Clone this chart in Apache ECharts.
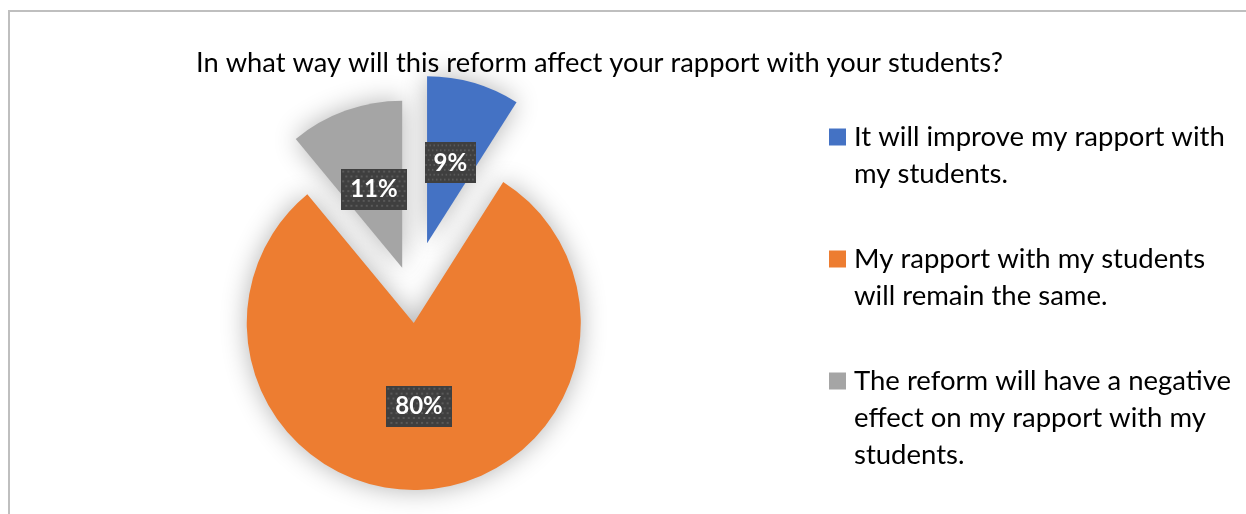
<!DOCTYPE html>
<html>
<head>
<meta charset="utf-8">
<title>Rapport with students</title>
<script src="https://cdn.jsdelivr.net/npm/echarts@6/dist/echarts.min.js"></script>
<style>
  html, body { margin: 0; padding: 0; background: #fff; }
  #chart { width: 1246px; height: 514px; }
</style>
</head>
<body>
<div id="chart"></div>
<script>
// Survey question and answers
const questionTitle = 'In what way will this reform affect your rapport with your students?';
const categories = [
  'It will improve my rapport with my students.',
  'My rapport with my students will remain the same.',
  'The reform will have a negative effect on my rapport with my students.'
];
// Legend wording, broken the way it wraps in the key
const legendLines = [
  ['It will improve my rapport with', 'my students.'],
  ['My rapport with my students', 'will remain the same.'],
  ['The reform will have a negative', 'effect on my rapport with my', 'students.']
];
// Share of respondents, percent
const shares = [9, 80, 11];

// Styling
const colors = ['#4472C4', '#ED7D31', '#A5A5A5'];
const explodeBy = [54, 28, 29];
const FONT = 'Lato, "Open Sans", sans-serif';
const CENTER = [412, 295];
const RADIUS = 167;

// Dark dotted fill for the value boxes
function dotTile(w, h) {
  const c = document.createElement('canvas');
  c.width = w; c.height = h;
  const g = c.getContext('2d');
  g.fillStyle = '#3f3f3f';
  g.fillRect(0, 0, w, h);
  g.fillStyle = '#595959';
  for (let y = 2; y < h; y += 5) {
    for (let x = ((Math.round(y / 5)) % 2 ? 4 : 1); x < w; x += 5) {
      g.fillRect(x, y, 2, 2);
    }
  }
  return c;
}
const tile = dotTile(64, 42);

const chart = echarts.init(document.getElementById('chart'), null, { renderer: 'canvas' });

const total = shares.reduce((a, b) => a + b, 0);

// One pie layer per slice so every slice can be pulled out by its own distance
const sliceSeries = shares.map((_, k) => ({
  type: 'pie',
  center: CENTER,
  radius: RADIUS,
  startAngle: 90,
  clockwise: true,
  selectedMode: 'single',
  selectedOffset: explodeBy[k],
  silent: true,
  animation: false,
  label: { show: false },
  labelLine: { show: false },
  emphasis: { disabled: true },
  data: categories.map((name, i) => ({
    name: name,
    value: shares[i],
    selected: i === k,
    itemStyle: i === k
      ? { color: colors[i], shadowBlur: 26, shadowColor: 'rgba(0,0,0,0.3)' }
      : { color: 'rgba(0,0,0,0)' }
  }))
}));

// Value boxes sit halfway along each pulled-out slice: in a polar frame sharing the
// pie's centre, that is the slice's middle angle at (offset + radius / 2)
const labelPoints = shares.map((v, k) => {
  const before = shares.slice(0, k).reduce((a, b) => a + b, 0);
  return { value: [explodeBy[k] + RADIUS / 2, before + v / 2], share: v };
});

const valueSeries = {
  type: 'scatter',
  coordinateSystem: 'polar',
  silent: true,
  animation: false,
  symbolSize: 1,
  itemStyle: { color: 'rgba(0,0,0,0)', opacity: 1 },
  z: 10,
  data: labelPoints,
  label: {
    show: true,
    position: 'inside',
    formatter: (p) => p.data.share + '%',
    color: '#ffffff',
    textBorderWidth: 0,
    fontFamily: FONT,
    fontWeight: 'bold',
    fontSize: 24,
    lineHeight: 24,
    padding: [9, 9, 8, 9],
    backgroundColor: { image: tile },
    shadowBlur: 6,
    shadowOffsetX: 3,
    shadowOffsetY: 3,
    shadowColor: 'rgba(0,0,0,0.5)'
  }
};

// Key on the right: swatch + wrapped wording
const legendGraphics = [];
const LINE_H = 37, ITEM_GAP = 48;
let rowY = 137;
legendLines.forEach((lines, i) => {
  legendGraphics.push({
    type: 'rect',
    shape: { x: 829, y: rowY - 8.5, width: 17, height: 17 },
    style: { fill: colors[i] },
    silent: true
  });
  legendGraphics.push({
    type: 'text',
    x: 854,
    y: rowY - LINE_H / 2,
    style: {
      text: lines.join('\n'),
      font: '27.5px ' + FONT,
      lineHeight: LINE_H,
      fill: '#000000',
      verticalAlign: 'top'
    },
    silent: true
  });
  rowY += lines.length * LINE_H + ITEM_GAP;
});

chart.setOption({
  backgroundColor: '#ffffff',
  animation: false,
  title: {
    text: questionTitle,
    left: 191,
    top: 45,
    textStyle: { fontFamily: FONT, fontSize: 27.3, fontWeight: 'normal', color: '#000000' }
  },
  polar: { center: CENTER, radius: RADIUS },
  angleAxis: {
    type: 'value', min: 0, max: total, startAngle: 90, clockwise: true, show: false
  },
  radiusAxis: { type: 'value', min: 0, max: RADIUS, show: false },
  graphic: [
    {
      type: 'rect',
      shape: { x: 9, y: 11, width: 1400, height: 700 },
      style: { fill: 'none', stroke: '#bfbfbf', lineWidth: 2 },
      silent: true,
      z: -10
    }
  ].concat(legendGraphics),
  series: sliceSeries.concat([valueSeries])
});
</script>
</body>
</html>
